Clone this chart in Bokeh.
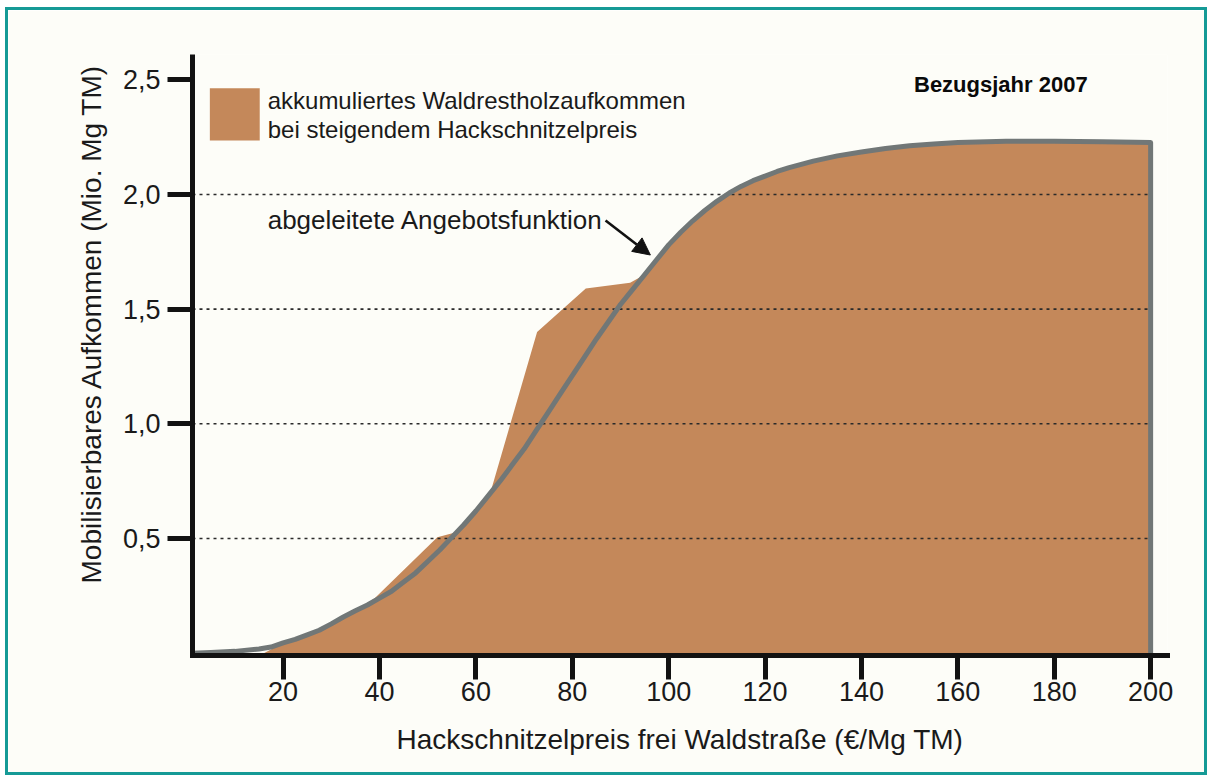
from bokeh.plotting import figure
from bokeh.models import Range1d, FixedTicker, Label, BoxAnnotation, Arrow, NormalHead, Title
from bokeh.embed import file_html
from bokeh.resources import INLINE

# ---- data ----
# derived supply function (grey curve)
curve_x = [1, 5, 10, 15, 17.5, 20, 22.5, 25, 27.5, 30, 32.5, 35, 37.5, 40, 42.5, 45,
           47.5, 50, 52.5, 55, 57.5, 60, 62.5, 65, 67.5, 70, 72.5, 75, 77.5, 80,
           82.5, 85, 87.5, 90, 92.5, 95, 97.5, 100, 102.5, 105, 107.5, 110, 112.5,
           115, 117.5, 120, 122.5, 125, 130, 135, 140, 145, 150, 155, 160, 170,
           180, 190, 200]
curve_y = [0.0, 0.003, 0.008, 0.018, 0.027, 0.045, 0.06, 0.08, 0.1, 0.128, 0.158,
           0.185, 0.21, 0.24, 0.27, 0.31, 0.35, 0.4, 0.45, 0.505, 0.56, 0.62, 0.685,
           0.75, 0.82, 0.89, 0.97, 1.05, 1.13, 1.21, 1.29, 1.37, 1.445, 1.52, 1.585,
           1.65, 1.715, 1.78, 1.835, 1.885, 1.93, 1.97, 2.005, 2.035, 2.06, 2.08,
           2.1, 2.117, 2.145, 2.168, 2.185, 2.2, 2.212, 2.22, 2.226, 2.232, 2.232,
           2.23, 2.226]

# accumulated forest residue volume (brown area, stepwise)
area_x = [16, 20, 25, 30, 35, 39, 52, 55.5, 60, 63, 72.7, 82.8, 92, 95, 100, 105,
          110, 115, 120, 130, 140, 150, 160, 170, 180, 190, 200, 200]
area_y = [0.0, 0.045, 0.08, 0.128, 0.185, 0.24, 0.505, 0.525, 0.62, 0.70, 1.40,
          1.59, 1.615, 1.65, 1.78, 1.885, 1.97, 2.035, 2.08, 2.145, 2.185, 2.212,
          2.226, 2.232, 2.232, 2.23, 2.226, 0.0]

x_ticks = [20, 40, 60, 80, 100, 120, 140, 160, 180, 200]
y_ticks = [0.5, 1.0, 1.5, 2.0, 2.5]
y_tick_labels = ["0,5", "1,0", "1,5", "2,0", "2,5"]
grid_levels = [0.5, 1.0, 1.5, 2.0]

x_title = "Hackschnitzelpreis frei Waldstraße (€/Mg TM)"
y_title = "Mobilisierbares Aufkommen (Mio. Mg TM)"
legend_lines = ["akkumuliertes Waldrestholzaufkommen", "bei steigendem Hackschnitzelpreis"]
curve_label = "abgeleitete Angebotsfunktion"
year_label = "Bezugsjahr 2007"

BROWN = "#c4885a"
GREY = "#717777"
BG = "#fdfdf8"
INK = "#1a1a1a"
FONT = "Liberation Sans"

p = figure(width=1202, height=768,
           x_range=Range1d(1.2, 203.5), y_range=Range1d(-0.01, 2.61),
           output_backend="svg", toolbar_location=None,
           min_border_left=184, min_border_right=43,
           min_border_top=44, min_border_bottom=123)
p.styles = {"border": "3px solid #159a96", "margin-left": "5px", "margin-top": "7px"}
p.background_fill_color = BG
p.border_fill_color = BG
p.outline_line_color = None
p.xgrid.visible = False
p.ygrid.visible = False

# area
p.patch(area_x, area_y, fill_color=BROWN, line_color=None)

# dotted grid lines (end at x=200)
p.segment(x0=[1.2] * len(grid_levels), y0=grid_levels,
          x1=[curve_x[-1]] * len(grid_levels), y1=grid_levels,
          line_color="#2a2a2a", line_width=1.6, line_dash="3 4")

# curve with vertical drop at the end
line_x = curve_x + [curve_x[-1]]
line_y = curve_y + [0.0]
p.line(line_x, line_y, line_color=GREY, line_width=5, line_join="round", line_cap="round")

# axes
for ax in (p.xaxis[0], p.yaxis[0]):
    ax.axis_line_width = 5
    ax.axis_line_color = "#121212"
    ax.major_tick_line_width = 5
    ax.major_tick_line_color = "#121212"
    ax.major_tick_in = 0
    ax.minor_tick_line_color = None
    ax.major_label_text_font = FONT
    ax.major_label_text_font_size = "27px"
    ax.major_label_text_color = INK

p.xaxis.ticker = FixedTicker(ticks=x_ticks)
p.xaxis.major_tick_out = 24
p.xaxis.major_label_standoff = 2
p.xaxis.axis_line_cap = "square"
p.xaxis.axis_label = x_title
p.xaxis.axis_label_text_font = FONT
p.xaxis.axis_label_text_font_size = "28px"
p.xaxis.axis_label_text_font_style = "normal"
p.xaxis.axis_label_text_color = INK
p.xaxis.axis_label_standoff = 20

p.yaxis.ticker = FixedTicker(ticks=y_ticks)
p.yaxis.major_label_overrides = {t: l for t, l in zip(y_ticks, y_tick_labels)}
p.yaxis.major_tick_out = 25
p.yaxis.major_label_standoff = 7

# y title as a left-side title (starts above the bottom like in the reference)
p.add_layout(Title(text=y_title, align="left", offset=72, standoff=26,
                   text_font=FONT, text_font_size="28px", text_font_style="normal",
                   text_color=INK), "left")

# legend
p.add_layout(BoxAnnotation(left=4.8, right=15.15, bottom=2.235, top=2.463,
                           fill_color=BROWN, fill_alpha=1.0, line_color=None))
p.add_layout(Label(x=16.8, y=2.41, text=legend_lines[0], text_font=FONT,
                   text_font_size="24px", text_color=INK, text_baseline="alphabetic"))
p.add_layout(Label(x=16.8, y=2.285, text=legend_lines[1], text_font=FONT,
                   text_font_size="24px", text_color=INK, text_baseline="alphabetic"))

# curve annotation + arrow
p.add_layout(Label(x=16.8, y=1.89, text=curve_label, text_font=FONT,
                   text_font_size="26px", text_color=INK, text_baseline="alphabetic"))
p.add_layout(Arrow(end=NormalHead(size=17, fill_color="#111111", line_color="#111111"),
                   x_start=86.9, y_start=1.886, x_end=96.2, y_end=1.736,
                   line_width=2.6, line_color="#111111"))

# reference year
p.add_layout(Label(x=150.9, y=2.48, text=year_label, text_font=FONT,
                   text_font_size="22px", text_font_style="bold", text_color="#0a0a0a",
                   text_baseline="alphabetic"))

open("out.html", "w").write(file_html(p, INLINE))
